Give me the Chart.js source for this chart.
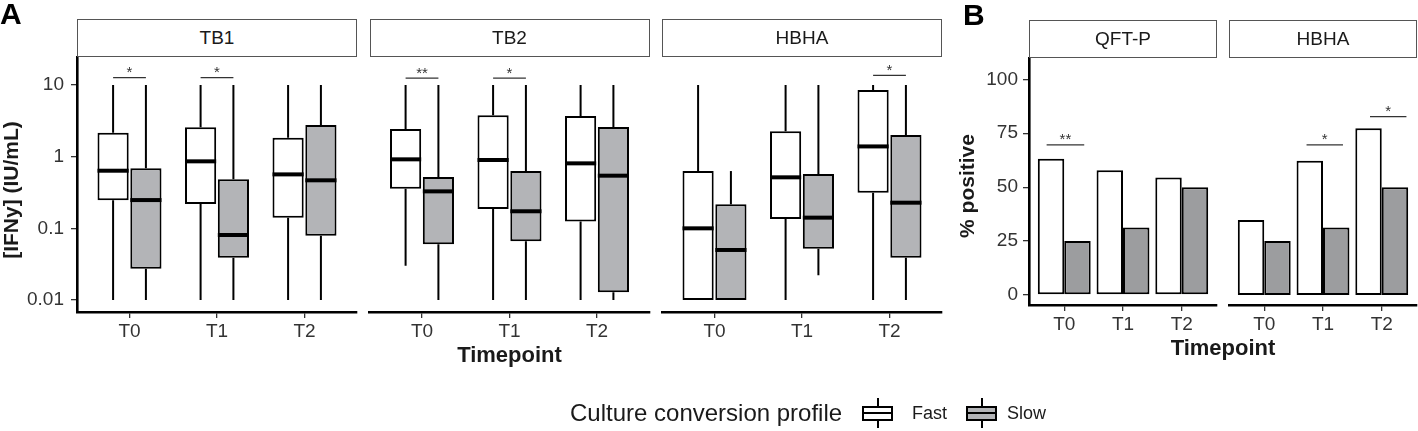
<!DOCTYPE html>
<html>
<head>
<meta charset="utf-8">
<script src="https://cdn.jsdelivr.net/npm/chart.js@4.4.0/dist/chart.umd.min.js"></script>
<style>
  html, body { margin: 0; padding: 0; background: #fff; }
  #wrap { position: relative; width: 1418px; height: 431px; overflow: hidden;
          font-family: 'Liberation Sans', Arial, sans-serif; color: #1a1a1a; }
  #wrap canvas { position: absolute; left: 0; top: 0; }
  .strip { position: absolute; box-sizing: border-box; border: 1.3px solid #555; background: #fff;
           display: flex; align-items: center; justify-content: center; font-size: 19px; color: #1a1a1a; }
  .lbl { position: absolute; white-space: nowrap; line-height: 1; transform: translate(-50%, -50%); }
  .bold { font-weight: bold; }
  .rot { transform: translate(-50%, -50%) rotate(-90deg); }
  .tag { position: absolute; font-weight: bold; font-size: 30px; line-height: 1; color: #000; }
  .key { position: absolute; width: 31px; height: 30px; }
  .key .wh { position: absolute; left: 14.5px; top: 0; width: 2px; height: 30px; background: #000; }
  .key .bx { position: absolute; left: 0; top: 7.5px; width: 31px; height: 15px; box-sizing: border-box;
             border: 2px solid #000; }
  .key .bx::after { content: ''; position: absolute; left: 0; right: 0; top: 4.5px; height: 2px; background: #000; }
</style>
</head>
<body>
<div id="wrap">
  <canvas id="cTB1" width="1418" height="431"></canvas>
  <canvas id="cTB2" width="1418" height="431"></canvas>
  <canvas id="cHBHA" width="1418" height="431"></canvas>
  <canvas id="cPctQFT" width="1418" height="431"></canvas>
  <canvas id="cPctHBHA" width="1418" height="431"></canvas>

  <div class="tag" style="left:0px; top:-1px;">A</div>
  <div class="tag" style="left:963px; top:0px;">B</div>

  <div class="strip" style="left:77px; top:19px; width:280px; height:38px;">TB1</div>
  <div class="strip" style="left:369.5px; top:19px; width:280px; height:38px;">TB2</div>
  <div class="strip" style="left:662px; top:19px; width:280px; height:38px;">HBHA</div>
  <div class="strip" style="left:1029px; top:20px; width:188px; height:38px;">QFT-P</div>
  <div class="strip" style="left:1229px; top:20px; width:188px; height:38px;">HBHA</div>

  <div class="lbl bold rot" style="left:10px; top:190px; font-size:21px;">[IFNy] (IU/mL)</div>
  <div class="lbl bold rot" style="left:966px; top:186px; font-size:21px;">% positive</div>
  <div class="lbl bold" style="left:509.5px; top:355px; font-size:22px;">Timepoint</div>
  <div class="lbl bold" style="left:1223px; top:348px; font-size:22px;">Timepoint</div>

  <div class="lbl" style="left:570px; top:413px; font-size:24px; transform:translateY(-50%);">Culture conversion profile</div>
  <div class="key" style="left:862px; top:398px;"><div class="wh"></div><div class="bx" style="background:#fff;"></div></div>
  <div class="lbl" style="left:912px; top:413px; font-size:18px; transform:translateY(-50%);">Fast</div>
  <div class="key" style="left:966px; top:398px;"><div class="wh"></div><div class="bx" style="background:#b3b4b7;"></div></div>
  <div class="lbl" style="left:1007px; top:413px; font-size:18px; transform:translateY(-50%);">Slow</div>
</div>

<script>
// categories
const timepoints = ['T0', 'T1', 'T2'];

// panel A: [min, q1, median, q3, max] per timepoint, IFN-g in IU/mL
const tb1Fast  = [[0.01, 0.246, 0.637, 2.16, 10], [0.01, 0.218, 0.861, 2.57, 10], [0.01, 0.141, 0.566, 1.84, 10]];
const tb1Slow  = [[0.01, 0.0274, 0.248, 0.687, 10], [0.01, 0.039, 0.0807, 0.483, 10], [0.01, 0.079, 0.468, 2.77, 10]];
const tb2Fast  = [[0.0301, 0.357, 0.918, 2.43, 10], [0.01, 0.186, 0.898, 3.78, 10], [0.01, 0.125, 0.807, 3.69, 10]];
const tb2Slow  = [[0.01, 0.0598, 0.328, 0.52, 10], [0.01, 0.066, 0.173, 0.631, 10], [0.01, 0.0128, 0.543, 2.59, 10]];
const hbhaFast = [[0.01, 0.01, 0.1, 0.631, 10], [0.01, 0.135, 0.515, 2.26, 10], [0.01, 0.315, 1.39, 8.5, 10]];
const hbhaSlow = [[0.01, 0.01, 0.0499, 0.216, 0.63], [0.0221, 0.052, 0.141, 0.573, 10], [0.01, 0.039, 0.228, 2.0, 10]];
const ifnTicks = [0.01, 0.1, 1, 10];
const ifnTickLabels = ['0.01', '0.1', '1', '10'];

// panel B: % positive
const qftPctFast  = [63.2, 57.9, 54.5];
const qftPctSlow  = [25, 31.3, 50];
const hbhaPctFast = [34.8, 62.2, 77.3];
const hbhaPctSlow = [25, 31.3, 50];
const pctTicks = [0, 25, 50, 75, 100];

// significance brackets (timepoint, bracket ends relative to it, height in data units)
const tb1Sig  = [{t: 0, from: -0.1875, to: 0.1875, y: 12.7, label: '*'}, {t: 1, from: -0.1875, to: 0.1875, y: 12.7, label: '*'}];
const tb2Sig  = [{t: 0, from: -0.1875, to: 0.1875, y: 12.5, label: '**'}, {t: 1, from: -0.1875, to: 0.1875, y: 12.5, label: '*'}];
const hbhaSig = [{t: 2, from: -0.1875, to: 0.1875, y: 13.6, label: '*'}];
const qftPctSig  = [{t: 0, from: -0.3, to: 0.34, y: 69.6, label: '**'}];
const hbhaPctSig = [{t: 1, from: -0.28, to: 0.34, y: 69.6, label: '*'}, {t: 2, from: -0.2, to: 0.42, y: 82.7, label: '*'}];

Chart.defaults.font.family = "'Liberation Sans', Arial, sans-serif";
Chart.defaults.font.size = 19;
Chart.defaults.color = '#333';

const W = 1418, H = 431;
const SLOW_BOX = '#b3b4b7', SLOW_BAR = '#9c9d9f';

// whiskers under the boxes, medians on top
function drawBoxParts(chart, part) {
  const ctx = chart.ctx, y = chart.scales.y;
  chart.data.datasets.forEach((ds, i) => {
    if (!ds.summary) return;
    chart.getDatasetMeta(i).data.forEach((bar, j) => {
      const s = ds.summary[j];
      const p = bar.getProps(['x', 'width'], true);
      ctx.save();
      ctx.strokeStyle = '#000';
      ctx.beginPath();
      if (part === 'whisker') {
        ctx.lineWidth = 2;
        ctx.moveTo(p.x, y.getPixelForValue(s[4]));
        ctx.lineTo(p.x, y.getPixelForValue(s[3]));
        ctx.moveTo(p.x, y.getPixelForValue(s[1]));
        ctx.lineTo(p.x, y.getPixelForValue(s[0]));
      } else {
        ctx.lineWidth = 4;
        const py = y.getPixelForValue(s[2]);
        ctx.moveTo(p.x - p.width / 2, py);
        ctx.lineTo(p.x + p.width / 2, py);
      }
      ctx.stroke();
      ctx.restore();
    });
  });
}

const boxParts = {
  id: 'boxParts',
  beforeDatasetsDraw(chart) { drawBoxParts(chart, 'whisker'); },
  afterDatasetsDraw(chart) { drawBoxParts(chart, 'median'); }
};

const sigMarks = {
  id: 'sigMarks',
  afterDatasetsDraw(chart, args, opts) {
    const {ctx, scales: {x, y}} = chart;
    (opts.items || []).forEach(m => {
      const x0 = x.getPixelForValue(m.t + m.from);
      const x1 = x.getPixelForValue(m.t + m.to);
      const py = y.getPixelForValue(m.y);
      ctx.save();
      ctx.strokeStyle = '#333';
      ctx.lineWidth = 1.2;
      ctx.beginPath();
      ctx.moveTo(x0, py);
      ctx.lineTo(x1, py);
      ctx.stroke();
      ctx.fillStyle = '#333';
      ctx.font = "15px 'Liberation Sans', Arial, sans-serif";
      ctx.textAlign = 'center';
      ctx.textBaseline = 'alphabetic';
      ctx.fillText(m.label, (x0 + x1) / 2, py - 0.5);
      ctx.restore();
    });
  }
};

function axisLine() { return {display: true, color: '#000', width: 2.6}; }
function tickMarks() {
  return {display: true, offset: false, drawOnChartArea: false, drawTicks: true, tickLength: 6, color: '#333', lineWidth: 1.3};
}

function xScale(height) {
  return {
    type: 'linear', min: -0.6, max: 2.6, offset: false,
    border: axisLine(), grid: tickMarks(),
    afterBuildTicks: s => { s.ticks = timepoints.map((_, i) => ({value: i})); },
    afterFit: s => { s.height = height; },
    ticks: {autoSkip: false, maxRotation: 0, padding: 2, callback: (v, i) => timepoints[i]}
  };
}

function makeFacet(id, area, datasets, yScale, sig, showY) {
  const yW = 60, xH = 40;
  const y = Object.assign({display: showY, border: axisLine(), grid: tickMarks()}, yScale);
  if (showY) y.afterFit = s => { s.width = yW; };
  new Chart(document.getElementById(id), {
    type: 'bar',
    data: {datasets: datasets},
    options: {
      responsive: false,
      animation: false,
      events: [],
      layout: {padding: {
        left: showY ? area.left - yW : area.left,
        right: W - area.right,
        top: area.top,
        bottom: H - area.bottom - xH
      }},
      plugins: {legend: {display: false}, tooltip: {enabled: false}, sigMarks: {items: sig}},
      scales: {x: xScale(xH), y: y}
    },
    plugins: [boxParts, sigMarks]
  });
}

function boxSets(fast, slow) {
  const common = {borderColor: '#000', borderWidth: 2, borderSkipped: false, categoryPercentage: 0.75, barPercentage: 0.95};
  return [
    Object.assign({label: 'Fast', summary: fast, backgroundColor: '#fff',
      data: fast.map((s, i) => ({x: i, y: [s[1], s[3]]}))}, common),
    Object.assign({label: 'Slow', summary: slow, backgroundColor: SLOW_BOX,
      data: slow.map((s, i) => ({x: i, y: [s[1], s[3]]}))}, common)
  ];
}

function barSets(fast, slow) {
  const common = {borderColor: '#000', borderWidth: 2, borderSkipped: false, categoryPercentage: 0.9, barPercentage: 1};
  return [
    Object.assign({label: 'Fast', backgroundColor: '#fff', data: fast.map((v, i) => ({x: i, y: v}))}, common),
    Object.assign({label: 'Slow', backgroundColor: SLOW_BAR, data: slow.map((v, i) => ({x: i, y: v}))}, common)
  ];
}

const ifnScale = {
  type: 'logarithmic', min: 0.0068, max: 24.6,
  afterBuildTicks: s => { s.ticks = ifnTicks.map(v => ({value: v})); },
  ticks: {autoSkip: false, padding: 7, callback: (v, i) => ifnTickLabels[i]}
};
const pctScale = {
  type: 'linear', min: -4.64, max: 109.9,
  afterBuildTicks: s => { s.ticks = pctTicks.map(v => ({value: v})); },
  ticks: {autoSkip: false, padding: 5, callback: (v, i) => String(pctTicks[i])}
};

makeFacet('cTB1',  {left: 77,    right: 357,   top: 57, bottom: 312}, boxSets(tb1Fast, tb1Slow),   ifnScale, tb1Sig, true);
makeFacet('cTB2',  {left: 369.5, right: 649.5, top: 57, bottom: 312}, boxSets(tb2Fast, tb2Slow),   ifnScale, tb2Sig, false);
makeFacet('cHBHA', {left: 662,   right: 942,   top: 57, bottom: 312}, boxSets(hbhaFast, hbhaSlow), ifnScale, hbhaSig, false);
makeFacet('cPctQFT',  {left: 1029, right: 1217, top: 58, bottom: 305}, barSets(qftPctFast, qftPctSlow),   pctScale, qftPctSig, true);
makeFacet('cPctHBHA', {left: 1229, right: 1417, top: 58, bottom: 305}, barSets(hbhaPctFast, hbhaPctSlow), pctScale, hbhaPctSig, false);
</script>
</body>
</html>
